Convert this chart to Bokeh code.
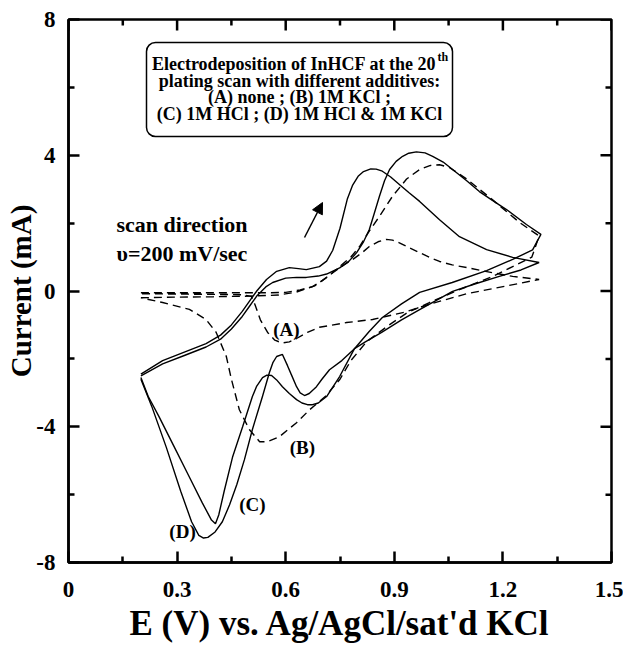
from bokeh.plotting import figure
from bokeh.models import Range1d, FixedTicker, Label, BoxAnnotation, Arrow, NormalHead
from bokeh.embed import file_html
from bokeh.resources import INLINE

# ---------------- data ----------------
x_ticks = [0, 0.3, 0.6, 0.9, 1.2, 1.5]
x_tick_labels = ["0", "0.3", "0.6", "0.9", "1.2", "1.5"]
x_minor = [0.15, 0.45, 0.75, 1.05, 1.35]
y_ticks = [-8, -4, 0, 4, 8]
y_tick_labels = ["-8", "-4", "0", "4", "8"]
y_minor = [-6, -2, 2, 6]

# (A) none  -- dashed
E_A_fwd = [0.20, 0.30, 0.40, 0.50, 0.56, 0.60, 0.64, 0.674, 0.70, 0.73, 0.76, 0.785, 0.81, 0.831,
           0.855, 0.878, 0.895, 0.914, 0.94, 0.97, 1.0, 1.025, 1.06, 1.10, 1.17, 1.227, 1.30]
I_A_fwd = [-0.05, -0.05, -0.05, -0.05, -0.05, -0.04, 0.03, 0.13, 0.30, 0.54, 0.76, 0.93, 1.12, 1.31,
           1.45, 1.52, 1.50, 1.42, 1.28, 1.13, 0.98, 0.87, 0.77, 0.69, 0.54, 0.43, 0.34]
E_A_rev = [1.30, 1.21, 1.10, 1.0, 0.93, 0.84, 0.768, 0.693, 0.66, 0.63, 0.61, 0.59, 0.57, 0.55,
           0.53, 0.515, 0.505, 0.48, 0.40, 0.30, 0.20]
I_A_rev = [0.34, 0.15, -0.08, -0.38, -0.62, -0.84, -0.93, -1.07, -1.22, -1.40, -1.50, -1.53, -1.45, -1.22,
           -0.85, -0.40, -0.16, -0.11, -0.10, -0.09, -0.08]

# (B) 1M KCl -- dashed
E_B_fwd = [0.20, 0.30, 0.40, 0.50, 0.58, 0.63, 0.68, 0.72, 0.749, 0.78, 0.804, 0.83, 0.859, 0.895,
           0.934, 0.97, 1.0, 1.025, 1.052, 1.10, 1.17, 1.246, 1.30]
I_B_fwd = [-0.20, -0.18, -0.17, -0.15, -0.12, -0.03, 0.15, 0.45, 0.72, 1.0, 1.31, 1.75, 2.2, 2.79,
           3.3, 3.58, 3.70, 3.72, 3.64, 3.3, 2.7, 2.02, 1.62]
E_B_rev = [1.30, 1.28, 1.227, 1.17, 1.08, 0.997, 0.934, 0.878, 0.823, 0.78, 0.75, 0.71, 0.666, 0.63,
           0.583, 0.55, 0.528, 0.50, 0.472, 0.45, 0.436, 0.408, 0.38, 0.334, 0.26, 0.20]
I_B_rev = [1.62, 1.0, 0.72, 0.42, 0.04, -0.34, -0.65, -1.06, -1.5, -2.05, -2.6, -3.1, -3.5, -3.88,
           -4.29, -4.44, -4.44, -4.09, -3.5, -2.6, -1.93, -1.22, -0.84, -0.54, -0.34, -0.20]

# (C) 1M HCl -- solid
E_C_fwd = [0.20, 0.26, 0.32, 0.38, 0.42, 0.45, 0.48, 0.50, 0.52, 0.545, 0.564, 0.60, 0.63, 0.657,
           0.69, 0.713, 0.749, 0.775, 0.796, 0.815, 0.831, 0.845, 0.859, 0.873, 0.887, 0.905, 0.923,
           0.94, 0.961, 0.985, 1.006, 1.035, 1.061, 1.10, 1.135, 1.17, 1.21, 1.265, 1.305]
I_C_fwd = [-2.50, -2.15, -1.90, -1.65, -1.42, -1.12, -0.75, -0.45, -0.15, 0.12, 0.25, 0.38, 0.40, 0.40,
           0.44, 0.50, 0.68, 0.88, 1.13, 1.45, 1.81, 2.3, 2.79, 3.25, 3.58, 3.82, 3.97,
           4.06, 4.10, 4.07, 3.97, 3.80, 3.58, 3.25, 2.93, 2.68, 2.40, 1.96, 1.67]
E_C_rev = [1.305, 1.282, 1.227, 1.155, 1.06, 0.97, 0.92, 0.867, 0.83, 0.79, 0.749, 0.713, 0.69, 0.674,
           0.66, 0.645, 0.63, 0.61, 0.591, 0.575, 0.561, 0.548, 0.536, 0.52, 0.508, 0.481, 0.453,
           0.43, 0.415, 0.406, 0.395, 0.37, 0.33, 0.29, 0.25, 0.22, 0.20]
I_C_rev = [1.67, 1.21, 0.93, 0.60, 0.25, -0.04, -0.38, -0.78, -1.2, -1.7, -2.52, -3.11, -3.30, -3.35,
           -3.35, -3.30, -3.2, -3.02, -2.82, -2.62, -2.49, -2.48, -2.55, -2.8, -3.11, -4.0, -4.9,
           -5.9, -6.6, -6.86, -6.75, -6.25, -5.4, -4.55, -3.7, -3.1, -2.55]

# (D) 1M HCl & 1M KCl -- solid
E_D_fwd = [0.20, 0.26, 0.32, 0.38, 0.42, 0.45, 0.48, 0.50, 0.52, 0.547, 0.575, 0.61, 0.635, 0.657,
           0.693, 0.713, 0.73, 0.75, 0.77, 0.785, 0.80, 0.815, 0.835, 0.85, 0.867, 0.89, 0.914, 0.94,
           0.97, 1.025, 1.08, 1.155, 1.227, 1.30]
I_D_fwd = [-2.45, -2.05, -1.80, -1.55, -1.30, -1.00, -0.60, -0.30, 0.00, 0.34, 0.58, 0.69, 0.66, 0.63,
           0.72, 0.88, 1.2, 1.85, 2.7, 3.12, 3.38, 3.52, 3.60, 3.59, 3.53, 3.36, 3.14, 2.90,
           2.64, 2.10, 1.60, 1.22, 0.99, 0.84]
E_D_rev = [1.30, 1.25, 1.19, 1.12, 1.061, 0.97, 0.92, 0.865, 0.82, 0.79, 0.755, 0.721, 0.70, 0.685,
           0.665, 0.652, 0.64, 0.63, 0.615, 0.605, 0.591, 0.575, 0.565, 0.555, 0.536, 0.508, 0.486,
           0.465, 0.445, 0.425, 0.405, 0.385, 0.373, 0.36, 0.34, 0.31, 0.27, 0.23, 0.20]
I_D_rev = [0.84, 0.62, 0.43, 0.2, -0.01, -0.55, -0.85, -1.22, -1.5, -1.7, -2.05, -2.32, -2.6, -2.82,
           -3.02, -3.08, -3.0, -2.82, -2.45, -2.2, -1.87, -1.93, -2.1, -2.4, -3.1, -4.08, -4.97,
           -5.7, -6.3, -6.8, -7.1, -7.26, -7.28, -7.2, -6.8, -5.9, -4.6, -3.4, -2.6]

curve_labels = ["(A)", "(B)", "(C)", "(D)"]
curve_label_E = [0.602, 0.646, 0.508, 0.315]
curve_label_I = [-1.14, -4.61, -6.29, -7.09]

box_lines = ["Electrodeposition of InHCF at the 20",
             "plating scan with different additives:",
             "(A) none ; (B) 1M KCl ;",
             "(C) 1M HCl ; (D) 1M HCl & 1M KCl"]

x_title = "E (V) vs. Ag/AgCl/sat'd KCl"
y_title = "Current (mA)"

# ---------------- layout helpers ----------------
FONT = "Liberation Serif"
FL, FT, FW, FH = 69, 20, 543, 543          # frame in page pixels
XMIN, XMAX, YMIN, YMAX = 0.0, 1.5, -8.0, 8.0
ORG_X, ORG_Y = 1, 1                        # observed canvas origin on the page


def dx(px):
    return XMIN + (px - FL) / FW * (XMAX - XMIN)


def dy(py):
    return YMAX - (py - FT) / FH * (YMAX - YMIN)


mb_top = FT - ORG_Y
p = figure(frame_width=FW, frame_height=FH,
           x_range=Range1d(XMIN, XMAX), y_range=Range1d(YMIN, YMAX),
           output_backend="svg", toolbar_location=None,
           min_border_left=FL - ORG_X, min_border_top=mb_top,
           min_border_right=12, min_border_bottom=644 - mb_top - FH)
p.xgrid.visible = False
p.ygrid.visible = False
p.background_fill_color = "white"
p.border_fill_color = "white"
p.outline_line_color = "black"
p.outline_line_width = 2.5
p.outline_line_alpha = 1.0


def style_axis(ax, ticks, minor, labels, title, label_standoff, title_standoff):
    ax.ticker = FixedTicker(ticks=ticks, minor_ticks=minor)
    ax.axis_line_width = 2.5
    ax.axis_line_color = "black"
    ax.major_tick_in = 11
    ax.major_tick_out = 0
    ax.minor_tick_in = 6
    ax.minor_tick_out = 0
    ax.major_tick_line_width = 2.5
    ax.minor_tick_line_width = 2.5
    ax.major_tick_line_color = "black"
    ax.minor_tick_line_color = "black"
    ax.major_label_overrides = {t: s for t, s in zip(ticks, labels)}
    ax.major_label_text_font = FONT
    ax.major_label_text_font_style = "bold"
    ax.major_label_text_font_size = "23px"
    ax.major_label_text_color = "black"
    ax.major_label_standoff = label_standoff
    ax.axis_label = title
    ax.axis_label_text_font = FONT
    ax.axis_label_text_font_style = "bold"
    ax.axis_label_text_color = "black"
    ax.axis_label_standoff = title_standoff


style_axis(p.xaxis[0], x_ticks, x_minor, x_tick_labels, x_title, 19, 4)
p.xaxis[0].axis_label_text_font_size = "35px"
style_axis(p.yaxis[0], y_ticks, y_minor, y_tick_labels, y_title, 13, -4)
p.yaxis[0].axis_label_text_font_size = "29px"

# mirrored inward ticks on the top and right frame edges
maj_x = 11 / FH * (YMAX - YMIN)
min_x = 6 / FH * (YMAX - YMIN)
maj_y = 11 / FW * (XMAX - XMIN)
min_y = 6 / FW * (XMAX - XMIN)
p.segment(x0=x_ticks, y0=[YMAX] * len(x_ticks), x1=x_ticks, y1=[YMAX - maj_x] * len(x_ticks),
          line_color="black", line_width=2.5)
p.segment(x0=x_minor, y0=[YMAX] * len(x_minor), x1=x_minor, y1=[YMAX - min_x] * len(x_minor),
          line_color="black", line_width=2.5)
p.segment(x0=[XMAX] * len(y_ticks), y0=y_ticks, x1=[XMAX - maj_y] * len(y_ticks), y1=y_ticks,
          line_color="black", line_width=2.5)
p.segment(x0=[XMAX] * len(y_minor), y0=y_minor, x1=[XMAX - min_y] * len(y_minor), y1=y_minor,
          line_color="black", line_width=2.5)

# ---------------- curves ----------------
for Ef, If, Er, Ir, dash in [(E_A_fwd, I_A_fwd, E_A_rev, I_A_rev, "8 5"),
                             (E_B_fwd, I_B_fwd, E_B_rev, I_B_rev, "8 5"),
                             (E_C_fwd, I_C_fwd, E_C_rev, I_C_rev, "solid"),
                             (E_D_fwd, I_D_fwd, E_D_rev, I_D_rev, "solid")]:
    p.line(Ef + Er, If + Ir, line_color="black", line_width=1.4, line_dash=dash)

for t, e, i in zip(curve_labels, curve_label_E, curve_label_I):
    p.add_layout(Label(x=e, y=i, text=t, text_font=FONT, text_font_style="bold",
                       text_font_size="19px", text_align="center", text_baseline="middle",
                       text_color="black"))

# arrow for scan direction
p.add_layout(Arrow(end=NormalHead(size=11, fill_color="black", line_color="black"),
                   x_start=dx(305), y_start=dy(238), x_end=dx(323), y_end=dy(203),
                   line_width=1.5, line_color="black"))

p.add_layout(Label(x=dx(117), y=dy(237), text="scan direction", text_font=FONT,
                   text_font_style="bold", text_font_size="22px", text_color="black"))
p.add_layout(Label(x=dx(117), y=dy(266), text="\u03c5=200 mV/sec", text_font=FONT,
                   text_font_style="bold", text_font_size="22px", text_color="black"))

# ---------------- legend box ----------------
p.add_layout(BoxAnnotation(left=dx(147), right=dx(453), top=dy(43), bottom=dy(137),
                           fill_color="white", fill_alpha=1.0, line_color="black",
                           line_alpha=1.0, line_width=1.5, border_radius=9, level="annotation"))
BF = 18
cx = 300
base = [64.5, 81, 97.5, 114]
line1_w = 15.805 * BF
sup_w = 0.889 * 12
start1 = cx - (line1_w + sup_w) / 2
p.add_layout(Label(x=dx(start1), y=dy(base[0]), text=box_lines[0], text_font=FONT,
                   text_font_style="bold", text_font_size=f"{BF}px", text_align="left",
                   text_baseline="alphabetic", text_color="black"))
p.add_layout(Label(x=dx(start1 + line1_w + 1), y=dy(base[0] - 7), text="th", text_font=FONT,
                   text_font_style="bold", text_font_size="12px", text_align="left",
                   text_baseline="alphabetic", text_color="black"))
for k in range(1, 4):
    p.add_layout(Label(x=dx(cx), y=dy(base[k]), text=box_lines[k], text_font=FONT,
                       text_font_style="bold", text_font_size=f"{BF}px", text_align="center",
                       text_baseline="alphabetic", text_color="black"))

open("out.html", "w").write(file_html(p, INLINE))
